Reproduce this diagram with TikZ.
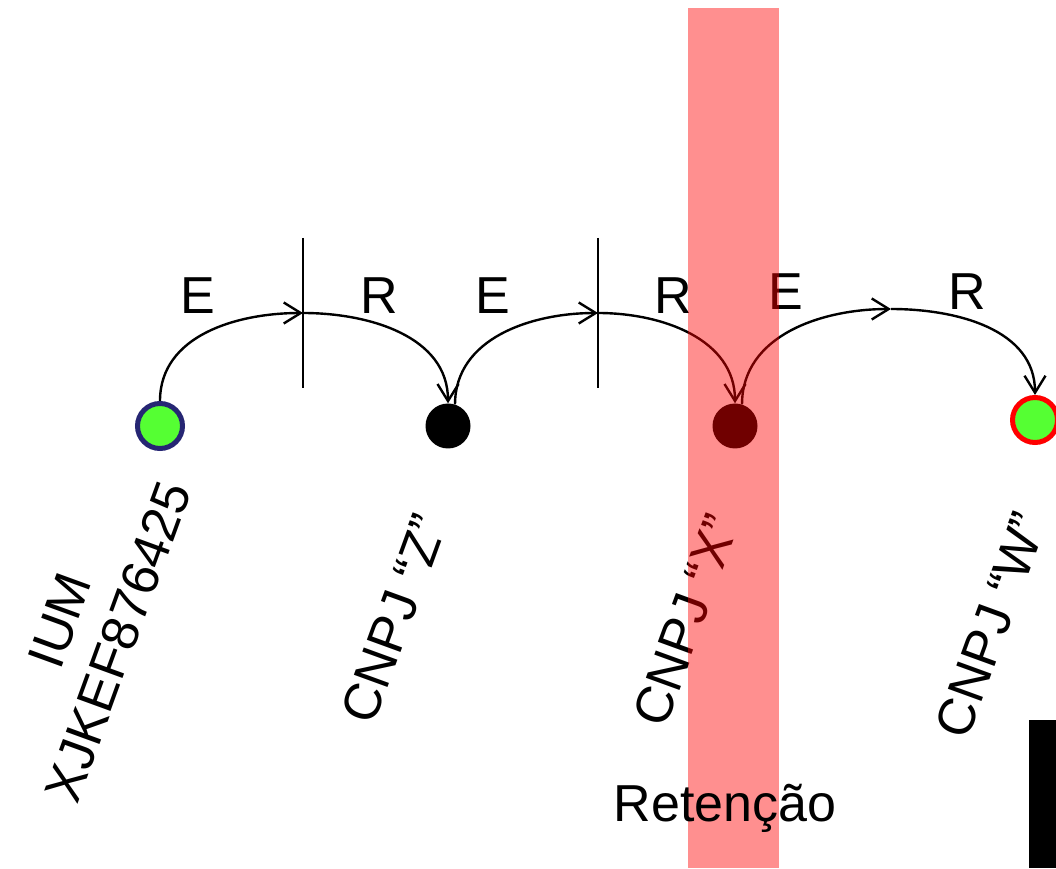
\documentclass[tikz,border=0pt]{standalone}
\usepackage{fontspec}
\setmainfont{Liberation Sans}
\usepackage{xcolor}
\definecolor{iumgreen}{HTML}{55FF33}
\definecolor{iumnavy}{HTML}{262673}
\usepackage{tikz}
\usetikzlibrary{positioning,arrows.meta}
\newcommand{\lblfont}{\fontsize{52}{62}\selectfont}
\tikzset{
  dot/.style ={circle, inner sep=0pt, minimum size=45pt, fill=black},
  gdot/.style={dot, fill=iumgreen, draw=iumnavy, line width=5pt},
  arr/.style ={-{Straight Barb[length=17pt,width=21pt]}, line width=2.4pt},
  lbl/.style ={font=\lblfont, inner sep=0pt},
  rlbl/.style={lbl, rotate=70, align=center},
}

\begin{document}
\begin{tikzpicture}[x=1pt,y=1pt]
  \useasboundingbox (0,0) rectangle (1056,868);
  % nodes
  \node[gdot] (ium) at (160,442) {};
  \node[dot] (cz) at (448,442) {};
  \node[dot] (cx) at (735,442) {};
  \node[gdot, draw=red] (cw) at (1035,448) {};
  \coordinate (t1) at (303,555);
  \coordinate (t2) at (598,555);
  \coordinate (t3) at (891,559);
  % dividers
  \draw[line width=2.2pt] (t1) ++(0,75) -- ++(0,-150);
  \draw[line width=2.2pt] (t2) ++(0,75) -- ++(0,-150);
  % arcs
  \draw[arr] (ium.north) to[out=90,in=180] (t1);
  \draw[arr] (t1) to[out=0,in=90] (cz.north);
  \draw[arr] (cz.72) to[out=90,in=180] (t2);
  \draw[arr] (t2) to[out=0,in=90] (cx.north);
  \draw[arr] (cx.72) to[out=90,in=180] (t3);
  \draw[arr] (t3) to[out=0,in=90] (cw.north);
  % labels
  \node[lbl] (e1) at (198,572) {E};
  \node[lbl] (r1) at (379,572) {R};
  \node[lbl] (e2) at (493,572) {E};
  \node[lbl] (r2) at (673,572) {R};
  \node[lbl] (e3) at (786,576) {E};
  \node[lbl] (r3) at (967,576) {R};
  \node[rlbl] (lium) at (89,237) {IUM\\XJKEF876425};
  \node[rlbl] (lz) at (394,249) {CNPJ “Z”};
  \node[rlbl] (lx) at (686,248) {CNPJ “X”};
  \node[rlbl] (lw) at (991,243) {CNPJ “W”};
  % retention band
  \fill[red, fill opacity=0.44] (688,0) rectangle (779,860);
  \node[lbl] (ret) at (725,60) {Retenção};
  \fill[black] (1029,0) rectangle (1056,148);
\end{tikzpicture}
\end{document}
